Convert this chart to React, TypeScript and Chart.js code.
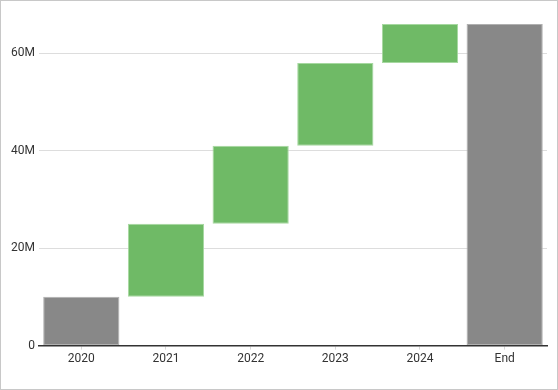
import React, { useEffect, useRef } from "react";
import { Chart, registerables } from "chart.js";

Chart.register(...registerables);

const categories = ["2020", "2021", "2022", "2023", "2024", "End"];
const barStarts = [0, 10, 25, 41, 58, 0];
const barEnds = [10, 25, 41, 58, 66, 66];
const barKinds = ["total", "up", "up", "up", "up", "total"];
const yTickValues = [0, 20, 40, 60];

export default function App() {
  const ref = useRef<HTMLCanvasElement>(null);
  useEffect(() => {
    document.body.style.margin = "0";
    const ctx = ref.current!;
    const chart = new Chart(ctx, {
      type: "bar",
      data: {
        labels: categories,
        datasets: [
          {
            data: categories.map((_, i) => [barStarts[i] * 1e6, barEnds[i] * 1e6]) as any,
            backgroundColor: barKinds.map((k) => (k === "total" ? "#888888" : "#6fba66")),
            borderColor: barKinds.map((k) => (k === "total" ? "#b0b0b0" : "#a6d8a0")),
            borderWidth: 1,
            borderSkipped: false,
            categoryPercentage: 0.9,
            barPercentage: 1,
          },
        ],
      },
      options: {
        animation: false,
        responsive: false,
        maintainAspectRatio: false,
        layout: { padding: { left: 6, right: 10, top: 23, bottom: 21 } },
        plugins: { legend: { display: false }, tooltip: { enabled: false } },
        scales: {
          x: {
            grid: {
              display: true,
              offset: false,
              drawOnChartArea: false,
              drawTicks: true,
              tickLength: 4,
              color: "#d8d8d8",
            },
            border: { display: true, color: "#333", width: 1.5 },
            ticks: { color: "#333", font: { family: "Roboto", size: 12 }, padding: 2 },
          },
          y: {
            min: 0,
            max: 66e6,
            afterBuildTicks: (axis: any) => {
              axis.ticks = yTickValues.map((v) => ({ value: v * 1e6 }));
            },
            grid: { color: "#dddddd", drawTicks: false },
            border: { display: false },
            ticks: {
              color: "#333",
              font: { family: "Roboto", size: 12 },
              padding: 4,
              callback: (v: any) => (Number(v) === 0 ? "0" : Number(v) / 1e6 + "M"),
            },
          },
        },
      },
    });
    return () => chart.destroy();
  }, []);
  return (
    <div
      style={{
        width: 558,
        height: 390,
        boxSizing: "border-box",
        border: "1px solid #c8c8c8",
        background: "#fff",
      }}
    >
      <canvas ref={ref} width={556} height={388} style={{ display: "block" }} />
    </div>
  );
}
